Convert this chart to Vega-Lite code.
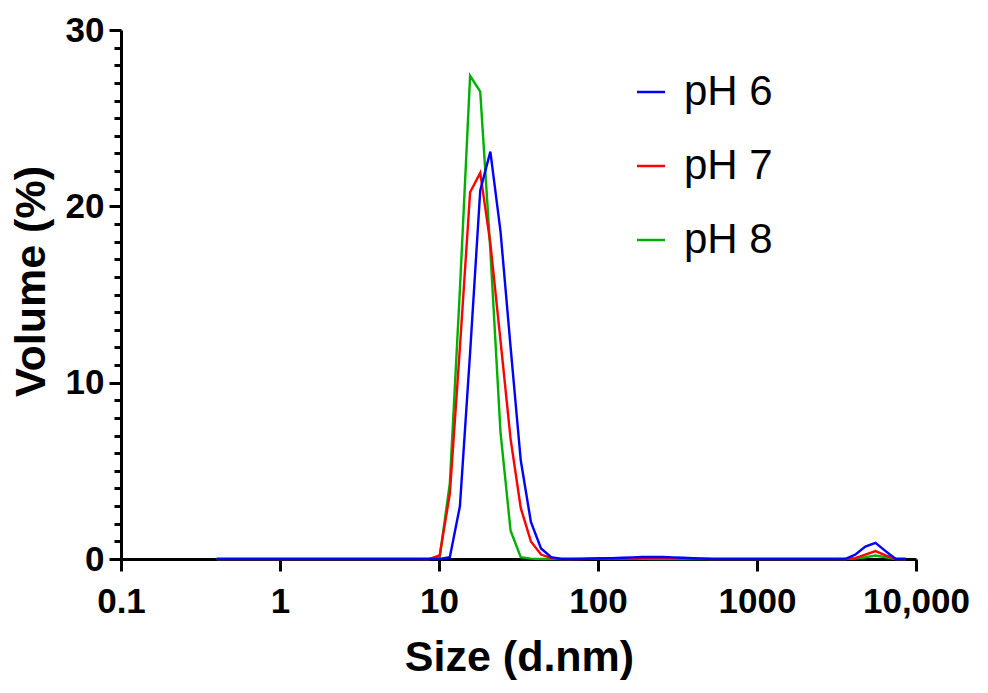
{
"$schema": "https://vega.github.io/schema/vega-lite/v6.json",
"width": 795,
"height": 529,
"autosize": "none",
"padding": {"left": 121, "top": 30, "right": 72, "bottom": 134},
"background": "white",
"config": {"view": {"stroke": null}, "font": "Liberation Sans"},
"data": {"values": [
{"size":0.4,"volume":0,"sample":"pH 8"},{"size":0.4632,"volume":0,"sample":"pH 8"},{"size":0.5365,"volume":0,"sample":"pH 8"},{"size":0.6213,"volume":0,"sample":"pH 8"},{"size":0.7195,"volume":0,"sample":"pH 8"},{"size":0.8332,"volume":0,"sample":"pH 8"},{"size":0.9649,"volume":0,"sample":"pH 8"},{"size":1.117,"volume":0,"sample":"pH 8"},{"size":1.294,"volume":0,"sample":"pH 8"},{"size":1.499,"volume":0,"sample":"pH 8"},{"size":1.736,"volume":0,"sample":"pH 8"},{"size":2.01,"volume":0,"sample":"pH 8"},{"size":2.328,"volume":0,"sample":"pH 8"},{"size":2.696,"volume":0,"sample":"pH 8"},{"size":3.122,"volume":0,"sample":"pH 8"},{"size":3.615,"volume":0,"sample":"pH 8"},{"size":4.187,"volume":0,"sample":"pH 8"},{"size":4.849,"volume":0,"sample":"pH 8"},{"size":5.615,"volume":0,"sample":"pH 8"},{"size":6.503,"volume":0,"sample":"pH 8"},{"size":7.531,"volume":0,"sample":"pH 8"},{"size":8.721,"volume":0,"sample":"pH 8"},{"size":10.1,"volume":0.1,"sample":"pH 8"},{"size":11.7,"volume":4.3,"sample":"pH 8"},{"size":13.54,"volume":15.3,"sample":"pH 8"},{"size":15.69,"volume":27.4,"sample":"pH 8"},{"size":18.17,"volume":26.5,"sample":"pH 8"},{"size":21.04,"volume":17.5,"sample":"pH 8"},{"size":24.36,"volume":7.2,"sample":"pH 8"},{"size":28.21,"volume":1.6,"sample":"pH 8"},{"size":32.67,"volume":0.1,"sample":"pH 8"},{"size":37.84,"volume":0.02,"sample":"pH 8"},{"size":43.82,"volume":0,"sample":"pH 8"},{"size":50.75,"volume":0,"sample":"pH 8"},{"size":58.77,"volume":0,"sample":"pH 8"},{"size":68.06,"volume":0,"sample":"pH 8"},{"size":78.82,"volume":0.01,"sample":"pH 8"},{"size":91.28,"volume":0.03,"sample":"pH 8"},{"size":105.7,"volume":0.04,"sample":"pH 8"},{"size":122.4,"volume":0.04,"sample":"pH 8"},{"size":141.8,"volume":0.03,"sample":"pH 8"},{"size":164.2,"volume":0.02,"sample":"pH 8"},{"size":190.1,"volume":0.01,"sample":"pH 8"},{"size":220.2,"volume":0,"sample":"pH 8"},{"size":255,"volume":0,"sample":"pH 8"},{"size":295.3,"volume":0,"sample":"pH 8"},{"size":342,"volume":0,"sample":"pH 8"},{"size":396.1,"volume":0,"sample":"pH 8"},{"size":458.7,"volume":0,"sample":"pH 8"},{"size":531.2,"volume":0,"sample":"pH 8"},{"size":615.1,"volume":0,"sample":"pH 8"},{"size":712.4,"volume":0,"sample":"pH 8"},{"size":825,"volume":0,"sample":"pH 8"},{"size":955.4,"volume":0,"sample":"pH 8"},{"size":1106,"volume":0,"sample":"pH 8"},{"size":1281,"volume":0,"sample":"pH 8"},{"size":1484,"volume":0,"sample":"pH 8"},{"size":1718,"volume":0,"sample":"pH 8"},{"size":1990,"volume":0,"sample":"pH 8"},{"size":2305,"volume":0,"sample":"pH 8"},{"size":2669,"volume":0,"sample":"pH 8"},{"size":3091,"volume":0,"sample":"pH 8"},{"size":3580,"volume":0,"sample":"pH 8"},{"size":4145,"volume":0.02,"sample":"pH 8"},{"size":4801,"volume":0.1,"sample":"pH 8"},{"size":5560,"volume":0.2,"sample":"pH 8"},{"size":6439,"volume":0.1,"sample":"pH 8"},{"size":7456,"volume":0,"sample":"pH 8"},{"size":8635,"volume":0,"sample":"pH 8"},
{"size":0.4,"volume":0,"sample":"pH 7"},{"size":0.4632,"volume":0,"sample":"pH 7"},{"size":0.5365,"volume":0,"sample":"pH 7"},{"size":0.6213,"volume":0,"sample":"pH 7"},{"size":0.7195,"volume":0,"sample":"pH 7"},{"size":0.8332,"volume":0,"sample":"pH 7"},{"size":0.9649,"volume":0,"sample":"pH 7"},{"size":1.117,"volume":0,"sample":"pH 7"},{"size":1.294,"volume":0,"sample":"pH 7"},{"size":1.499,"volume":0,"sample":"pH 7"},{"size":1.736,"volume":0,"sample":"pH 7"},{"size":2.01,"volume":0,"sample":"pH 7"},{"size":2.328,"volume":0,"sample":"pH 7"},{"size":2.696,"volume":0,"sample":"pH 7"},{"size":3.122,"volume":0,"sample":"pH 7"},{"size":3.615,"volume":0,"sample":"pH 7"},{"size":4.187,"volume":0,"sample":"pH 7"},{"size":4.849,"volume":0,"sample":"pH 7"},{"size":5.615,"volume":0,"sample":"pH 7"},{"size":6.503,"volume":0,"sample":"pH 7"},{"size":7.531,"volume":0,"sample":"pH 7"},{"size":8.721,"volume":0,"sample":"pH 7"},{"size":10.1,"volume":0.2,"sample":"pH 7"},{"size":11.7,"volume":3.7,"sample":"pH 7"},{"size":13.54,"volume":12.0,"sample":"pH 7"},{"size":15.69,"volume":20.8,"sample":"pH 7"},{"size":18.17,"volume":21.9,"sample":"pH 7"},{"size":21.04,"volume":17.9,"sample":"pH 7"},{"size":24.36,"volume":12.4,"sample":"pH 7"},{"size":28.21,"volume":6.8,"sample":"pH 7"},{"size":32.67,"volume":2.9,"sample":"pH 7"},{"size":37.84,"volume":1.0,"sample":"pH 7"},{"size":43.82,"volume":0.25,"sample":"pH 7"},{"size":50.75,"volume":0.05,"sample":"pH 7"},{"size":58.77,"volume":0,"sample":"pH 7"},{"size":68.06,"volume":0,"sample":"pH 7"},{"size":78.82,"volume":0,"sample":"pH 7"},{"size":91.28,"volume":0.01,"sample":"pH 7"},{"size":105.7,"volume":0.02,"sample":"pH 7"},{"size":122.4,"volume":0.03,"sample":"pH 7"},{"size":141.8,"volume":0.04,"sample":"pH 7"},{"size":164.2,"volume":0.05,"sample":"pH 7"},{"size":190.1,"volume":0.06,"sample":"pH 7"},{"size":220.2,"volume":0.06,"sample":"pH 7"},{"size":255,"volume":0.06,"sample":"pH 7"},{"size":295.3,"volume":0.05,"sample":"pH 7"},{"size":342,"volume":0.04,"sample":"pH 7"},{"size":396.1,"volume":0.02,"sample":"pH 7"},{"size":458.7,"volume":0.01,"sample":"pH 7"},{"size":531.2,"volume":0,"sample":"pH 7"},{"size":615.1,"volume":0,"sample":"pH 7"},{"size":712.4,"volume":0,"sample":"pH 7"},{"size":825,"volume":0,"sample":"pH 7"},{"size":955.4,"volume":0,"sample":"pH 7"},{"size":1106,"volume":0,"sample":"pH 7"},{"size":1281,"volume":0,"sample":"pH 7"},{"size":1484,"volume":0,"sample":"pH 7"},{"size":1718,"volume":0,"sample":"pH 7"},{"size":1990,"volume":0,"sample":"pH 7"},{"size":2305,"volume":0,"sample":"pH 7"},{"size":2669,"volume":0,"sample":"pH 7"},{"size":3091,"volume":0,"sample":"pH 7"},{"size":3580,"volume":0,"sample":"pH 7"},{"size":4145,"volume":0.05,"sample":"pH 7"},{"size":4801,"volume":0.25,"sample":"pH 7"},{"size":5560,"volume":0.45,"sample":"pH 7"},{"size":6439,"volume":0.2,"sample":"pH 7"},{"size":7456,"volume":0,"sample":"pH 7"},{"size":8635,"volume":0,"sample":"pH 7"},
{"size":0.4,"volume":0,"sample":"pH 6"},{"size":0.4632,"volume":0,"sample":"pH 6"},{"size":0.5365,"volume":0,"sample":"pH 6"},{"size":0.6213,"volume":0,"sample":"pH 6"},{"size":0.7195,"volume":0,"sample":"pH 6"},{"size":0.8332,"volume":0,"sample":"pH 6"},{"size":0.9649,"volume":0,"sample":"pH 6"},{"size":1.117,"volume":0,"sample":"pH 6"},{"size":1.294,"volume":0,"sample":"pH 6"},{"size":1.499,"volume":0,"sample":"pH 6"},{"size":1.736,"volume":0,"sample":"pH 6"},{"size":2.01,"volume":0,"sample":"pH 6"},{"size":2.328,"volume":0,"sample":"pH 6"},{"size":2.696,"volume":0,"sample":"pH 6"},{"size":3.122,"volume":0,"sample":"pH 6"},{"size":3.615,"volume":0,"sample":"pH 6"},{"size":4.187,"volume":0,"sample":"pH 6"},{"size":4.849,"volume":0,"sample":"pH 6"},{"size":5.615,"volume":0,"sample":"pH 6"},{"size":6.503,"volume":0,"sample":"pH 6"},{"size":7.531,"volume":0,"sample":"pH 6"},{"size":8.721,"volume":0,"sample":"pH 6"},{"size":10.1,"volume":0,"sample":"pH 6"},{"size":11.7,"volume":0.1,"sample":"pH 6"},{"size":13.54,"volume":3.0,"sample":"pH 6"},{"size":15.69,"volume":11.7,"sample":"pH 6"},{"size":18.17,"volume":20.9,"sample":"pH 6"},{"size":21.04,"volume":23.1,"sample":"pH 6"},{"size":24.36,"volume":18.6,"sample":"pH 6"},{"size":28.21,"volume":12.0,"sample":"pH 6"},{"size":32.67,"volume":5.6,"sample":"pH 6"},{"size":37.84,"volume":2.1,"sample":"pH 6"},{"size":43.82,"volume":0.6,"sample":"pH 6"},{"size":50.75,"volume":0.1,"sample":"pH 6"},{"size":58.77,"volume":0,"sample":"pH 6"},{"size":68.06,"volume":0,"sample":"pH 6"},{"size":78.82,"volume":0,"sample":"pH 6"},{"size":91.28,"volume":0.02,"sample":"pH 6"},{"size":105.7,"volume":0.04,"sample":"pH 6"},{"size":122.4,"volume":0.05,"sample":"pH 6"},{"size":141.8,"volume":0.07,"sample":"pH 6"},{"size":164.2,"volume":0.09,"sample":"pH 6"},{"size":190.1,"volume":0.11,"sample":"pH 6"},{"size":220.2,"volume":0.12,"sample":"pH 6"},{"size":255,"volume":0.11,"sample":"pH 6"},{"size":295.3,"volume":0.09,"sample":"pH 6"},{"size":342,"volume":0.07,"sample":"pH 6"},{"size":396.1,"volume":0.04,"sample":"pH 6"},{"size":458.7,"volume":0.02,"sample":"pH 6"},{"size":531.2,"volume":0,"sample":"pH 6"},{"size":615.1,"volume":0,"sample":"pH 6"},{"size":712.4,"volume":0,"sample":"pH 6"},{"size":825,"volume":0,"sample":"pH 6"},{"size":955.4,"volume":0,"sample":"pH 6"},{"size":1106,"volume":0,"sample":"pH 6"},{"size":1281,"volume":0,"sample":"pH 6"},{"size":1484,"volume":0,"sample":"pH 6"},{"size":1718,"volume":0,"sample":"pH 6"},{"size":1990,"volume":0,"sample":"pH 6"},{"size":2305,"volume":0,"sample":"pH 6"},{"size":2669,"volume":0,"sample":"pH 6"},{"size":3091,"volume":0,"sample":"pH 6"},{"size":3580,"volume":0,"sample":"pH 6"},{"size":4145,"volume":0.25,"sample":"pH 6"},{"size":4801,"volume":0.7,"sample":"pH 6"},{"size":5560,"volume":0.92,"sample":"pH 6"},{"size":6439,"volume":0.45,"sample":"pH 6"},{"size":7456,"volume":0,"sample":"pH 6"},{"size":8635,"volume":0,"sample":"pH 6"}
]},
"mark": {"type": "line", "strokeWidth": 2.4},
"encoding": {
  "x": {"field": "size", "type": "quantitative",
    "scale": {"type": "log", "domain": [0.1, 10000]},
    "axis": {"values": [0.1, 1, 10, 100, 1000, 10000],
      "labelExpr": "datum.value >= 10000 ? '10,000' : format(datum.value, '~g')",
      "title": "Size (d.nm)", "grid": false,
      "domainColor": "black", "domainWidth": 3, "tickColor": "black", "tickWidth": 3, "tickSize": 12,
      "labelFont": "Liberation Sans", "labelFontWeight": "bold", "labelFontSize": 35, "labelColor": "black",
      "labelPadding": 13, "labelBaseline": "top", "labelFlush": false, "labelOverlap": false,
      "titleFont": "Liberation Sans", "titleFontWeight": "bold", "titleFontSize": 43, "titleColor": "black",
      "titleBaseline": "alphabetic", "titleAlign": "center", "titleX": 398, "titleY": 111}},
  "y": {"field": "volume", "type": "quantitative",
    "scale": {"domain": [0, 30]},
    "axis": {"values": [0,1,2,3,4,5,6,7,8,9,10,11,12,13,14,15,16,17,18,19,20,21,22,23,24,25,26,27,28,29,30],
      "labelExpr": "datum.value % 10 === 0 ? datum.label : ''",
      "title": "Volume (%)", "grid": false,
      "domainColor": "black", "domainWidth": 3, "tickColor": "black", "tickWidth": 3,
      "tickSize": {"condition": {"test": "datum.value % 10 === 0", "value": 12}, "value": 7},
      "labelFont": "Liberation Sans", "labelFontWeight": "bold", "labelFontSize": 35, "labelColor": "black",
      "labelPadding": 5, "labelFlush": false, "labelOverlap": false,
      "titleFont": "Liberation Sans", "titleFontWeight": "bold", "titleFontSize": 43, "titleColor": "black",
      "titleAngle": -90, "titleBaseline": "alphabetic", "titleAlign": "center", "titleX": -77, "titleY": 251}},
  "color": {"field": "sample", "type": "nominal",
    "scale": {"domain": ["pH 6", "pH 7", "pH 8"], "range": ["#0000ff", "#ff0000", "#00b000"]},
    "legend": {"orient": "none", "legendX": 509, "legendY": 41, "title": null,
      "symbolType": "stroke", "symbolSize": 784, "symbolStrokeWidth": 2.5,
      "labelFont": "Liberation Sans", "labelFontSize": 42, "labelColor": "black",
      "labelOffset": 12, "rowPadding": 32, "padding": 0}}
}
}
